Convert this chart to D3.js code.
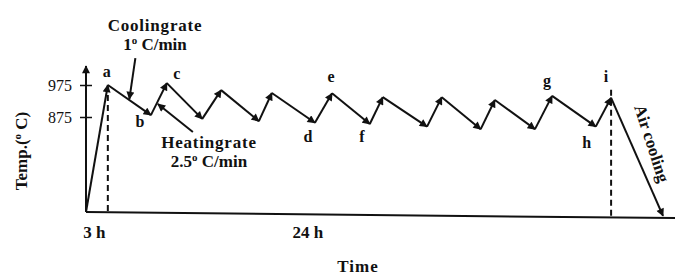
<!DOCTYPE html>
<html>
<head>
<meta charset="utf-8">
<script src="https://cdn.jsdelivr.net/npm/d3@7"></script>
<style>
  body { margin: 0; background: #fff; }
  svg { display: block; }
  text { font-family: "Liberation Serif", "DejaVu Serif", serif; fill: #111; }
  .bold { font-weight: bold; }
</style>
</head>
<body>
<svg id="chart"></svg>
<script>
// schematic time units (0..100 across the axis) and furnace temperature (°C)
const cycleTimes = [0, 3.7, 11.0, 13.7, 19.7, 22.9, 29.3, 31.5, 38.8, 41.7, 48.1, 50.3, 57.8, 60.3, 66.9, 69.3, 76.1, 79.0, 86.4, 89.0, 97.8];
const cycleTemps = [578, 975, 881, 981, 869, 959, 862, 950, 857, 949, 853, 937, 845, 937, 837, 928, 837, 941, 845, 935, 566];

// letters marking points of the cycle (index into the arrays above)
const pointNames = ['a', 'b', 'c', 'd', 'e', 'f', 'g', 'h', 'i'];
const pointIndex = [1, 2, 3, 8, 9, 10, 17, 18, 19];

// y ticks
const yTickValues = [875, 975];

// x labels
const xTickTimes = [1.4, 37.6];
const xTickLabels = ['3 h', '24 h'];

// time axis line (drawn slightly tilted like the source)
const baseTimes = [0, 100];
const baseTemps = [578, 559];

// dashed drop lines from a and i
const dropIndex = [1, 19];

class CycleChart {

    constructor(_config) {
        this.config = {
            parentElement: _config.parentElement,
            containerWidth: 675,
            containerHeight: 275,
            xRange: [86, 676],
            yRange: [117, 85],
            labelOffset: {
                a: [-1, -8], b: [-11, 12], c: [10, -4], d: [-7, 19], e: [-1, -11],
                f: [-8, 18], g: [-5, -10], h: [-9, 21], i: [-5, -16]
            },
            dropOffset: [10, -8]
        };
        this.initVis();
    }

    initVis() {
        let vis = this;

        vis.svg = d3.select(vis.config.parentElement)
            .attr('width', vis.config.containerWidth)
            .attr('height', vis.config.containerHeight);

        vis.xScale = d3.scaleLinear().domain([0, 100]).range(vis.config.xRange);
        vis.yScale = d3.scaleLinear().domain([875, 975]).range(vis.config.yRange);
        vis.baseTemp = d3.scaleLinear().domain(baseTimes).range(baseTemps);

        // arrow head
        vis.svg.append('defs').append('marker')
            .attr('id', 'head')
            .attr('viewBox', '0 0 10 10')
            .attr('refX', 9).attr('refY', 5)
            .attr('markerWidth', 9).attr('markerHeight', 8)
            .attr('markerUnits', 'userSpaceOnUse')
            .attr('orient', 'auto')
            .append('path')
            .attr('d', 'M0,0 L10,5 L0,10 Z')
            .attr('fill', '#111');

        vis.renderVis();
    }

    renderVis() {
        let vis = this;
        const x = vis.xScale, y = vis.yScale;

        // time axis
        vis.svg.append('line')
            .attr('x1', x(baseTimes[0])).attr('y1', y(baseTemps[0]))
            .attr('x2', x(baseTimes[1])).attr('y2', y(baseTemps[1]))
            .attr('stroke', '#111').attr('stroke-width', 2);

        // temperature axis with arrow
        vis.svg.append('line')
            .attr('x1', x(0)).attr('y1', y(baseTemps[0]))
            .attr('x2', x(0)).attr('y2', 66)
            .attr('stroke', '#111').attr('stroke-width', 2)
            .attr('marker-end', 'url(#head)');

        const yAxis = d3.axisLeft(y).tickValues(yTickValues).tickSize(6).tickPadding(8);
        const yAxisG = vis.svg.append('g')
            .attr('transform', `translate(${x(0)},0)`)
            .call(yAxis);
        yAxisG.select('.domain').remove();
        yAxisG.selectAll('.tick line')
            .attr('x1', 6).attr('x2', -6)
            .attr('stroke', '#111').attr('stroke-width', 1.5);
        yAxisG.selectAll('.tick text')
            .attr('font-family', '"Liberation Serif", serif')
            .attr('font-size', 16)
            .attr('fill', '#222');

        // dashed drop lines
        vis.svg.selectAll('.drop')
            .data(dropIndex)
            .join('line')
            .attr('class', 'drop')
            .attr('x1', d => x(cycleTimes[d]))
            .attr('x2', d => x(cycleTimes[d]))
            .attr('y1', (d, i) => y(cycleTemps[d]) + vis.config.dropOffset[i])
            .attr('y2', d => y(vis.baseTemp(cycleTimes[d])))
            .attr('stroke', '#111').attr('stroke-width', 2)
            .attr('stroke-dasharray', '6,4');

        // cycle segments, each with an arrow head
        const segments = d3.range(cycleTimes.length - 1);
        vis.svg.selectAll('.seg')
            .data(segments)
            .join('line')
            .attr('class', 'seg')
            .attr('x1', i => x(cycleTimes[i])).attr('y1', i => y(cycleTemps[i]))
            .attr('x2', i => x(cycleTimes[i + 1])).attr('y2', i => y(cycleTemps[i + 1]))
            .attr('stroke', '#111').attr('stroke-width', 2)
            .attr('marker-end', 'url(#head)');

        // point letters
        vis.svg.selectAll('.pt')
            .data(pointNames)
            .join('text')
            .attr('class', 'pt bold')
            .attr('text-anchor', 'middle')
            .attr('font-size', 16)
            .attr('x', (d, i) => x(cycleTimes[pointIndex[i]]) + vis.config.labelOffset[d][0])
            .attr('y', (d, i) => y(cycleTemps[pointIndex[i]]) + vis.config.labelOffset[d][1])
            .text(d => d);

        // x labels
        vis.svg.selectAll('.xl')
            .data(xTickLabels)
            .join('text')
            .attr('class', 'xl bold')
            .attr('text-anchor', 'middle')
            .attr('font-size', 17)
            .attr('x', (d, i) => x(xTickTimes[i]))
            .attr('y', 238)
            .text(d => d);

        vis.svg.append('text')
            .attr('class', 'bold')
            .attr('text-anchor', 'middle')
            .attr('font-size', 17)
            .attr('letter-spacing', 1)
            .attr('x', 358).attr('y', 272)
            .text('Time');

        // y label
        const yl = vis.svg.append('text')
            .attr('class', 'bold')
            .attr('text-anchor', 'middle')
            .attr('font-size', 17)
            .attr('transform', 'translate(27,151) rotate(-90)');
        yl.append('tspan').text('Temp.(');
        yl.append('tspan').attr('font-size', 11).attr('dy', -6).text('o');
        yl.append('tspan').attr('dy', 6).text(' C)');

        // cooling rate note, arrow onto segment a-b
        const cx = (x(cycleTimes[1]) + x(cycleTimes[2])) / 2;
        const cy = (y(cycleTemps[1]) + y(cycleTemps[2])) / 2;
        vis.svg.append('line')
            .attr('x1', cx + 6).attr('y1', cy - 42)
            .attr('x2', cx).attr('y2', cy - 1)
            .attr('stroke', '#111').attr('stroke-width', 2)
            .attr('marker-end', 'url(#head)');
        vis.note(155, 31, 'Coolingrate', '1', ' C/min');

        // heating rate note, arrow onto segment b-c
        const hx = x(cycleTimes[2]) + 0.375 * (x(cycleTimes[3]) - x(cycleTimes[2]));
        const hy = y(cycleTemps[2]) + 0.375 * (y(cycleTemps[3]) - y(cycleTemps[2]));
        vis.svg.append('line')
            .attr('x1', hx + 36).attr('y1', hy + 29)
            .attr('x2', hx + 1).attr('y2', hy + 1)
            .attr('stroke', '#111').attr('stroke-width', 2)
            .attr('marker-end', 'url(#head)');
        vis.note(209, 148, 'Heatingrate', '2.5', ' C/min');

        // air cooling label along the last segment
        vis.svg.append('text')
            .attr('class', 'bold')
            .attr('font-size', 17)
            .attr('transform', 'translate(634,107) rotate(72)')
            .text('Air cooling');
    }

    note(cx, by, title, rate, unit) {
        let vis = this;
        vis.svg.append('text')
            .attr('class', 'bold')
            .attr('text-anchor', 'middle')
            .attr('font-size', 17)
            .attr('letter-spacing', 0.8)
            .attr('x', cx).attr('y', by)
            .text(title);
        const t = vis.svg.append('text')
            .attr('class', 'bold')
            .attr('text-anchor', 'middle')
            .attr('font-size', 17)
            .attr('x', cx).attr('y', by + 19);
        t.append('tspan').text(rate);
        t.append('tspan').attr('font-size', 11).attr('dy', -6).text('o');
        t.append('tspan').attr('dy', 6).text(unit);
    }
}

new CycleChart({ parentElement: '#chart' });
</script>
</body>
</html>
